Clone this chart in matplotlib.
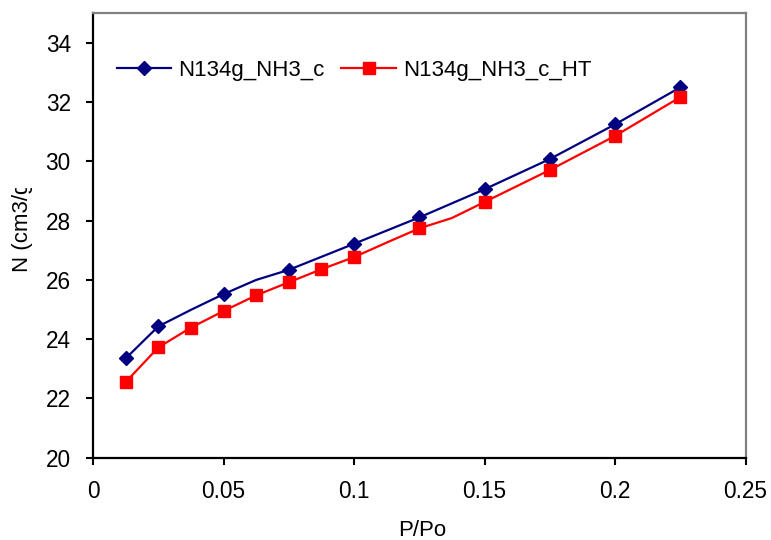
import matplotlib
matplotlib.use("Agg")
import matplotlib.pyplot as plt
from matplotlib.transforms import Bbox

plt.rcParams['font.family'] = ['Liberation Sans', 'DejaVu Sans']

# Data
p_blue = [0.0125, 0.025, 0.0375, 0.05, 0.0625, 0.075, 0.1, 0.125, 0.15, 0.175, 0.2, 0.225]
n_blue = [23.35, 24.43, 24.99, 25.52, 26.00, 26.34, 27.22, 28.11, 29.06, 30.08, 31.25, 32.50]
blue_marked = [0, 1, 3, 5, 6, 7, 8, 9, 10, 11]

p_red = [0.0125, 0.025, 0.0375, 0.05, 0.0625, 0.075, 0.0875, 0.1, 0.1125, 0.125,
         0.1375, 0.15, 0.175, 0.2, 0.225]
n_red = [22.55, 23.72, 24.39, 24.95, 25.48, 25.92, 26.36, 26.77, 27.26, 27.74,
         28.09, 28.63, 29.71, 30.86, 32.17]
red_marked = [0, 1, 2, 3, 4, 5, 6, 7, 9, 11, 12, 13, 14]

label_blue = "N134g_NH3_c"
label_red = "N134g_NH3_c_HT"
x_ticks = [0, 0.05, 0.1, 0.15, 0.2, 0.25]
x_tick_labels = ["0", "0.05", "0.1", "0.15", "0.2", "0.25"]
y_ticks = [20, 22, 24, 26, 28, 30, 32, 34]

W, H = 771, 540
fig = plt.figure(figsize=(W / 100, H / 100), dpi=100)
ax = fig.add_axes([93 / W, (H - 457.7) / H, (745.5 - 93) / W, (457.7 - 13.3) / H])

ax.plot(p_blue, n_blue, color='#000080', lw=1.6, marker='D', markersize=7,
        markevery=blue_marked, label=label_blue)
ax.plot(p_red, n_red, color='#FF0000', lw=1.6, marker='s', markersize=9,
        markevery=red_marked, label=label_red)

ax.set_xlim(0, 0.25)
ax.set_ylim(20, 35)
ax.set_xticks(x_ticks)
ax.set_xticklabels(x_tick_labels)
ax.set_yticks(y_ticks)
ax.tick_params(axis='both', direction='out', length=5, width=1.5, labelsize=16.3, pad=11)

for s in ['left', 'bottom']:
    ax.spines[s].set_color('black')
    ax.spines[s].set_linewidth(1.6)
for s in ['right', 'top']:
    ax.spines[s].set_color('#808080')
    ax.spines[s].set_linewidth(1.6)

leg = ax.legend(loc='center left', bbox_to_anchor=(0.023, 0.872), ncol=2, frameon=False,
                fontsize=16, handlelength=2.45, handletextpad=0.32, columnspacing=0.75,
                borderaxespad=0.0)

fig.text(422 / W, (H - 530) / H, "P/Po", ha='center', va='center', fontsize=16)
yl = fig.text(22.5 / W, (H - 272) / H, "N (cm3/g)", rotation=90, ha='center',
              va='bottom', fontsize=16)
yl.set_clip_box(Bbox.from_extents(0, 0, 60, H - 188))
yl.set_clip_on(True)

fig.savefig("out.png", dpi=100)
